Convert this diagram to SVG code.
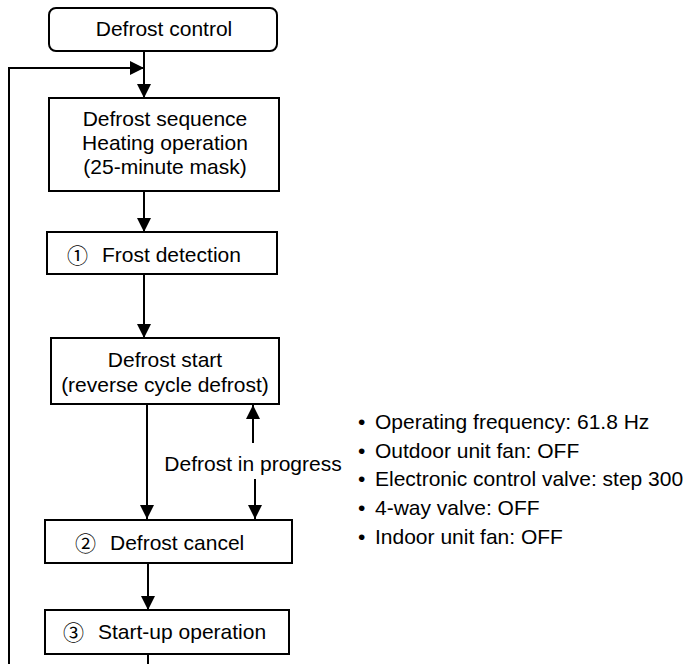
<svg xmlns="http://www.w3.org/2000/svg" width="688" height="664" viewBox="0 0 688 664">
<defs>
<style>
.box{fill:#fff;stroke:#000;stroke-width:2}
.ln{fill:none;stroke:#000;stroke-width:2}
text{font-family:"Liberation Sans","DejaVu Sans",Arial,sans-serif;font-size:21px;fill:#000}
.c{text-anchor:middle}
.num{font-family:"Noto Sans CJK JP","DejaVu Sans",sans-serif;font-size:21px}
</style>
<marker id="ah" markerUnits="userSpaceOnUse" markerWidth="14" markerHeight="14" viewBox="0 0 12 12" refX="12" refY="6" orient="auto">
<path d="M0,0 L12,6 L0,12 Z" fill="#000"/>
</marker>
</defs>
<rect width="688" height="664" fill="#fff"/>
<g id="connectors">
<path class="ln" d="M144,51 V98" marker-end="url(#ah)"/>
<path class="ln" d="M9,664 V68 H144" marker-end="url(#ah)"/>
<path class="ln" d="M144,191 V232" marker-end="url(#ah)"/>
<path class="ln" d="M144,274 V338" marker-end="url(#ah)"/>
<path class="ln" d="M147,404 V519" marker-end="url(#ah)"/>
<path class="ln" d="M253,443 V405" marker-end="url(#ah)"/>
<path class="ln" d="M255,479 V519" marker-end="url(#ah)"/>
<path class="ln" d="M148,563 V610" marker-end="url(#ah)"/>
<path class="ln" d="M148,654 V664"/>
<text x="253" y="471" class="c">Defrost in progress</text>
</g>
<g id="n-defrost-control">
<rect class="box" x="49" y="8" width="228" height="43" rx="7"/>
<text x="164" y="36" class="c">Defrost control</text>
</g>
<g id="n-sequence">
<rect class="box" x="49" y="98" width="230" height="93"/>
<text x="165" y="126" class="c">Defrost sequence</text>
<text x="165" y="150" class="c">Heating operation</text>
<text x="165" y="174" class="c">(25-minute mask)</text>
</g>
<g id="n-frost-detection">
<rect class="box" x="47" y="232" width="230" height="42"/>
<text x="67" y="263"><tspan class="num">①</tspan><tspan x="102" y="262">Frost detection</tspan></text>
</g>
<g id="n-defrost-start">
<rect class="box" x="51" y="338" width="228" height="66"/>
<text x="165" y="367" class="c">Defrost start</text>
<text x="165" y="392" class="c">(reverse cycle defrost)</text>
</g>
<g id="n-defrost-cancel">
<rect class="box" x="45" y="520" width="247" height="43"/>
<text x="75" y="551"><tspan class="num">②</tspan><tspan x="110" y="550">Defrost cancel</tspan></text>
</g>
<g id="n-startup">
<rect class="box" x="45" y="610" width="244" height="44"/>
<text x="63" y="640"><tspan class="num">③</tspan><tspan x="98" y="639">Start-up operation</tspan></text>
</g>
<g id="n-conditions">
<text y="429"><tspan x="358">•</tspan><tspan x="375">Operating frequency: 61.8 Hz</tspan></text>
<text y="458"><tspan x="358">•</tspan><tspan x="375">Outdoor unit fan: OFF</tspan></text>
<text y="486"><tspan x="358">•</tspan><tspan x="375">Electronic control valve: step 300</tspan></text>
<text y="515"><tspan x="358">•</tspan><tspan x="375">4-way valve: OFF</tspan></text>
<text y="544"><tspan x="358">•</tspan><tspan x="375">Indoor unit fan: OFF</tspan></text>
</g>
</svg>
